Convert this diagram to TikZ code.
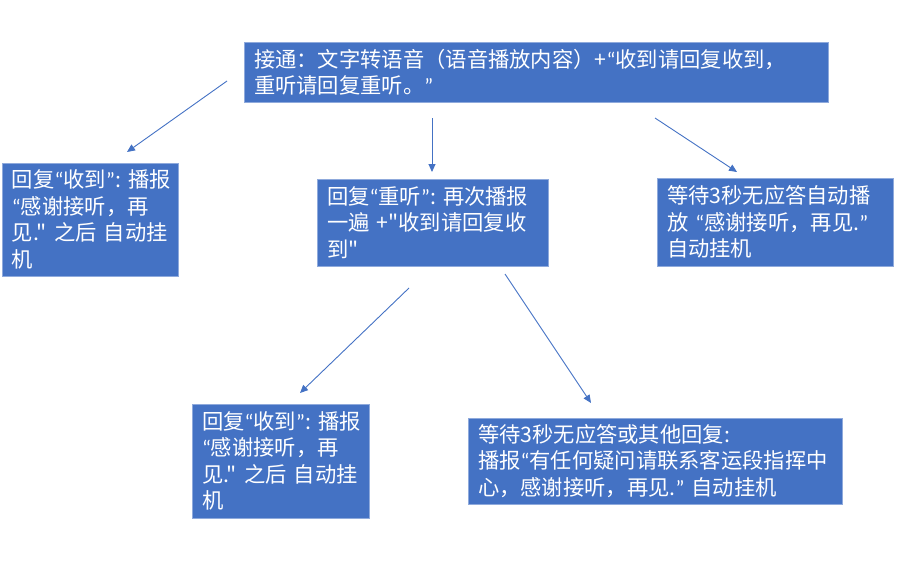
\documentclass[tikz,border=0pt]{standalone}
\usepackage{fontspec}
\setmainfont{Noto Sans CJK SC}[Ligatures=TeXOff]
\newfontfamily\lat{Carlito}
\usetikzlibrary{arrows.meta}
\newcommand{\ql}{{\lat “}}
\newcommand{\qr}{{\lat ”}}
\definecolor{boxblue}{HTML}{4472C4}
\definecolor{boxedge}{HTML}{8FAADC}
\definecolor{arrblue}{HTML}{4472C4}
\tikzset{
  stepbox/.style={rectangle, fill=boxblue, draw=boxedge, line width=0.6pt,
    text=white, align=left, inner xsep=10pt, inner ysep=0pt,
    font=\fontsize{21.3}{26.5}\selectfont},
  link/.style={draw=arrblue, line width=0.9pt, -{Triangle[length=8pt,width=7pt]}}
}
\begin{document}
\begin{tikzpicture}[x=1pt,y=-1pt]
\useasboundingbox (0,0) rectangle (912,570);
\node[stepbox, text width=564pt, minimum height=60pt] (top) at (536,72)
  {接通：文字转语音（语音播放内容）+\ql 收到请回复收到，\\重听请回复重听。\qr};
\node[stepbox, text width=156pt, minimum height=113pt] (left) at (90,219.5)
  {回复\ql 收到\qr:~播报\\\ql 感谢接听，再\\见."~之后~自动挂\\机};
\node[stepbox, text width=211pt, minimum height=87pt] (mid) at (432.5,222.5)
  {回复\ql 重听\qr:~再次播报\\一遍~+"收到请回复收\\到"};
\node[stepbox, text width=216pt, minimum height=88pt] (right) at (775,222)
  {等待3秒无应答自动播\\放~\ql 感谢接听，再见.\qr\\自动挂机};
\node[stepbox, text width=157pt, minimum height=114pt] (bl) at (280.5,461)
  {回复\ql 收到\qr:~播报\\\ql 感谢接听，再\\见."~之后~自动挂\\机};
\node[stepbox, text width=354pt, minimum height=86pt] (br) at (655,461)
  {等待3秒无应答或其他回复:\\播报\ql 有任何疑问请联系客运段指挥中\\心，感谢接听，再见.\qr~自动挂机};
\coordinate (a1s) at (227,81);  \coordinate (a1e) at (127,152);
\coordinate (a2s) at (432,118); \coordinate (a2e) at (432,172);
\coordinate (a3s) at (655,118); \coordinate (a3e) at (737,172);
\coordinate (a4s) at (409,288); \coordinate (a4e) at (300,393);
\coordinate (a5s) at (505,274); \coordinate (a5e) at (591,403);
\draw[link] (a1s) -- (a1e);
\draw[link] (a2s) -- (a2e);
\draw[link] (a3s) -- (a3e);
\draw[link] (a4s) -- (a4e);
\draw[link] (a5s) -- (a5e);
\end{tikzpicture}
\end{document}
